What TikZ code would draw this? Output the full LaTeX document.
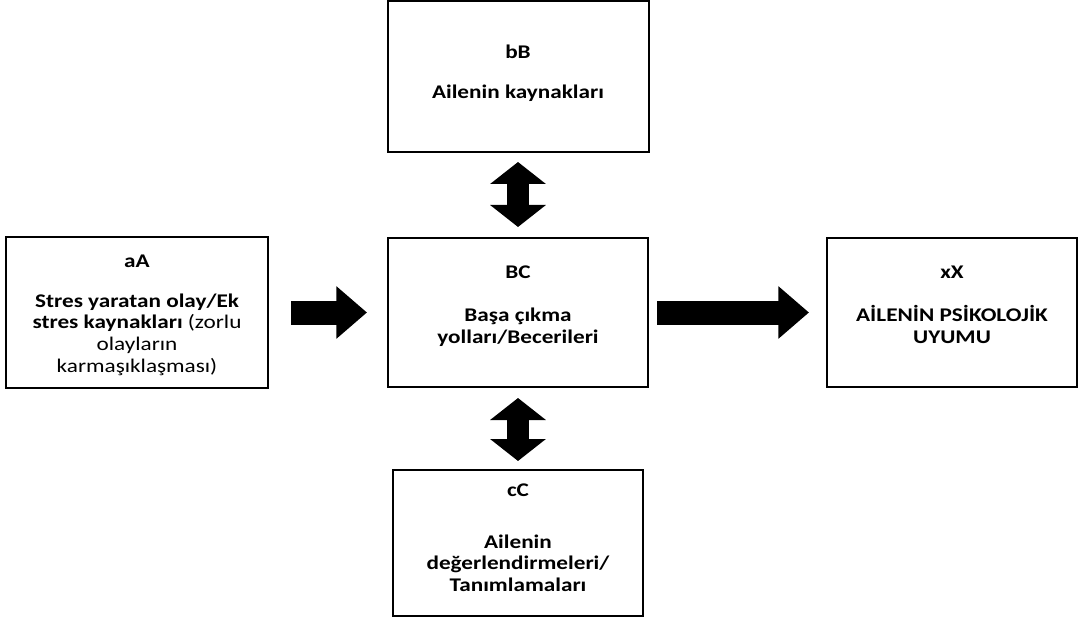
\documentclass[tikz,border=0pt]{standalone}
\usepackage{fontspec}
\setmainfont{Carlito}[FakeStretch=1.2]
\usetikzlibrary{arrows.meta, positioning}

\begin{document}
\begin{tikzpicture}[
    x=0.75pt, y=-0.75pt,
    box/.style={
        rectangle,
        draw=black,
        line width=1.5pt,
        minimum width=195pt,
        minimum height=111.75pt
    },
    boxtext/.style={
        align=center,
        inner sep=0pt,
        font=\fontsize{14.5}{16.3}\selectfont\bfseries
    },
    fatarrow/.style={-{Triangle[length=23pt, width=38pt]}, line width=18pt},
    fatboth/.style={{Triangle[length=16.5pt, width=41pt]}-{Triangle[length=16.5pt, width=41pt]}, line width=16.5pt}
]
\useasboundingbox (0,0) rectangle (1082,624);

% ---------------- Kutular ----------------
\node[box] (bc) at (518,312.5) {};
\node[box, left=88.5pt of bc, minimum width=196.5pt, minimum height=112.5pt] (a) {};
\node[box, right=132.75pt of bc, minimum width=187.5pt] (x) {};
\node[box, above=63pt of bc, minimum width=195.75pt, minimum height=113.25pt] (b) {};
\node[box, below=60.75pt of bc, minimum width=187.5pt, minimum height=109.5pt] (c) {};

% ---------------- Yazilar ----------------
\node[boxtext, yshift=4.9pt] (bc-text) at (bc) {BC\\[16pt]Başa çıkma\\yolları/Becerileri};
\node[boxtext, yshift=-1.9pt] (a-text) at (a) {aA\\[13.7pt]Stres yaratan olay/Ek\\stres kaynakları {\mdseries (zorlu}\\{\mdseries olayların}\\{\mdseries karmaşıklaşması)}};
\node[boxtext, yshift=5.6pt] (x-text) at (x) {xX\\[16pt]AİLENİN PSİKOLOJİK\\UYUMU};
\node[boxtext, yshift=2.5pt] (b-text) at (b) {bB\\[14pt]Ailenin kaynakları};
\node[boxtext, yshift=4pt] (c-text) at (c) {cC\\[22.5pt]Ailenin\\değerlendirmeleri/\\Tanımlamaları};

% ---------------- Oklar ----------------
\draw[fatarrow, shorten <=16.5pt, shorten >=15pt] (a) -- (bc);
\draw[fatarrow, shorten <=6pt, shorten >=12.75pt] (bc) -- (x);
\draw[fatboth, shorten <=6.75pt, shorten >=7.5pt] (b) -- (bc);
\draw[fatboth, shorten <=7.5pt, shorten >=6pt] (bc) -- (c);

\end{tikzpicture}
\end{document}
